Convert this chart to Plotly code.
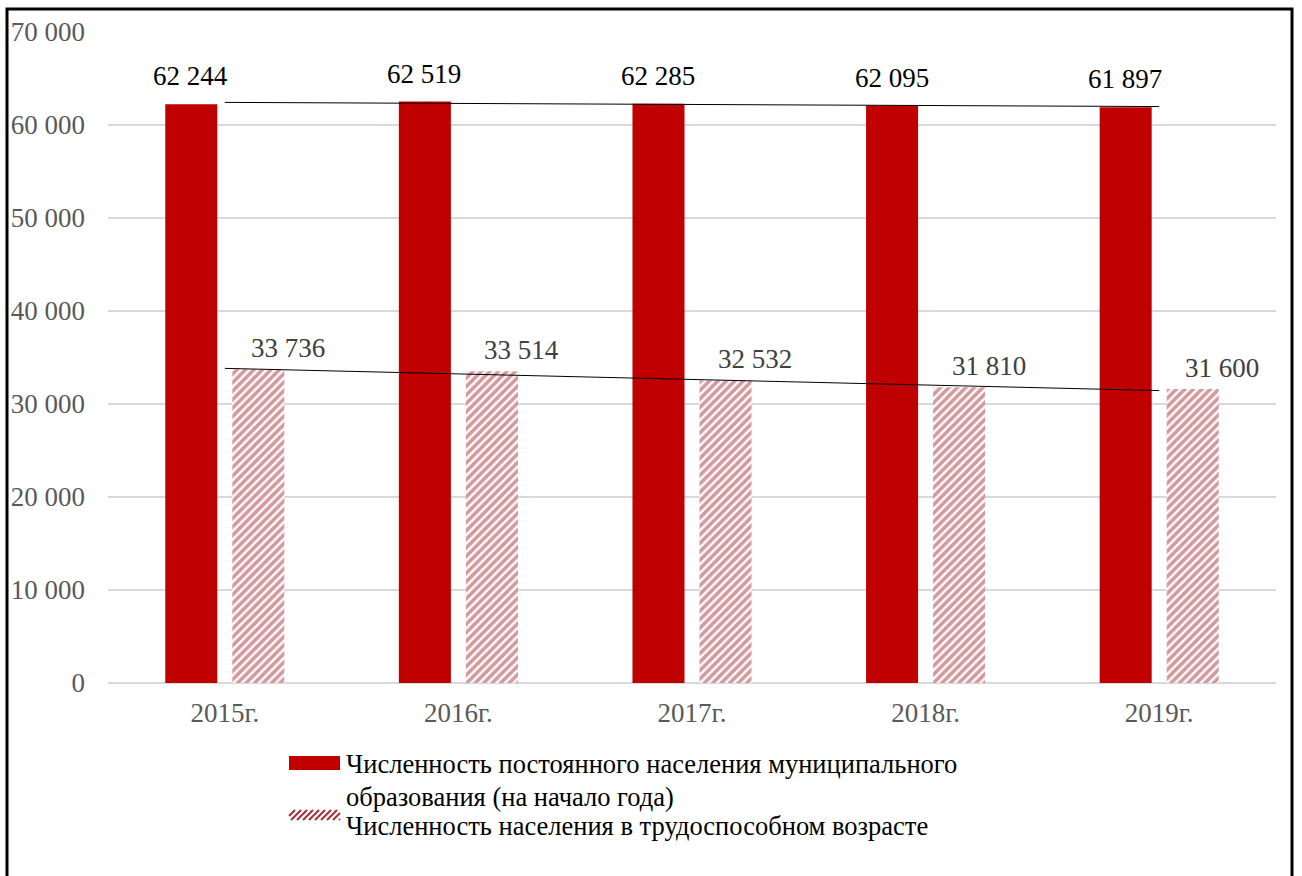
import numpy as np
import plotly.graph_objects as go

years = ["2015г.", "2016г.", "2017г.", "2018г.", "2019г."]
total_pop = [62244, 62519, 62285, 62095, 61897]
working_pop = [33736, 33514, 32532, 31810, 31600]
legend_lines_total = ["Численность постоянного населения муниципального",
                      "образования (на начало года)"]
legend_working = "Численность населения в трудоспособном возрасте"
y_ticks = [0, 10000, 20000, 30000, 40000, 50000, 60000, 70000]

FONT = "Liberation Serif, Times New Roman, serif"
RED = "#C00000"
HATCH = "#A8343C"
FS = 27

def trend(vals):
    xs = np.arange(len(vals))
    k, b = np.polyfit(xs, vals, 1)
    return list(k * xs + b)

def fmt(v):
    return f"{v:,}".replace(",", " ")

fig = go.Figure()
fig.add_trace(go.Bar(
    x=years, y=total_pop, name="total", showlegend=False,
    marker=dict(color=RED, line=dict(width=0)),
))
fig.add_trace(go.Bar(
    x=years, y=working_pop, name="working", showlegend=False,
    marker=dict(color="white", line=dict(width=0),
                pattern=dict(shape="/", fgcolor=HATCH, bgcolor="white",
                             size=6, solidity=0.6, fillmode="overlay")),
))
fig.add_trace(go.Scatter(x=years, y=trend(total_pop), mode="lines",
                         line=dict(color="black", width=1), showlegend=False,
                         hoverinfo="skip"))
fig.add_trace(go.Scatter(x=years, y=trend(working_pop), mode="lines",
                         line=dict(color="black", width=1), showlegend=False,
                         hoverinfo="skip"))

# plot-area geometry (pixels)
W, H = 1302, 876
pw, ph, L, T = 1168, 651, 108, 32
def px(x):
    return (x - L) / pw
def py(y):
    return (T + ph - y) / ph

ann = []
for yr, v in zip(years, total_pop):
    ann.append(dict(x=yr, y=v, text=fmt(v), showarrow=False,
                    xanchor="center", yanchor="bottom", xshift=-34, yshift=11,
                    font=dict(family=FONT, size=FS, color="black")))
for yr, v in zip(years, working_pop):
    ann.append(dict(x=yr, y=v, text=fmt(v), showarrow=False,
                    xanchor="center", yanchor="bottom", xshift=63, yshift=4,
                    font=dict(family=FONT, size=FS, color="#404040")))

# custom legend text
for txt, yc in [(legend_lines_total[0], 764), (legend_lines_total[1], 797),
                (legend_working, 826)]:
    ann.append(dict(xref="paper", yref="paper", x=px(344), y=py(yc), text=txt,
                    showarrow=False, xanchor="left", yanchor="middle",
                    font=dict(family=FONT, size=26.5, color="black")))

shapes = [
    # outer border (cropped at the bottom)
    dict(type="rect", xref="paper", yref="paper",
         x0=px(7), x1=px(1292), y0=py(930), y1=py(9),
         line=dict(color="black", width=3), layer="above"),
    # legend swatch: solid red
    dict(type="rect", xref="paper", yref="paper",
         x0=px(289), x1=px(340), y0=py(770), y1=py(756),
         fillcolor=RED, line=dict(width=0)),
]
# legend swatch: hatched
sx0, sx1, sy0, sy1 = 289, 340, 810, 820
hgt = sy1 - sy0
step = 6
x = sx0 - hgt
while x < sx1:
    a0, a1 = x, x + hgt
    c0 = max(a0, sx0)
    c1 = min(a1, sx1)
    if c1 > c0:
        y_at = lambda xx: sy1 - (xx - a0)
        shapes.append(dict(type="line", xref="paper", yref="paper",
                           x0=px(c0), y0=py(y_at(c0)), x1=px(c1), y1=py(y_at(c1)),
                           line=dict(color=HATCH, width=2.2)))
    x += step

fig.update_layout(
    width=W, height=H,
    margin=dict(l=L, r=W - L - pw, t=T, b=H - T - ph),
    paper_bgcolor="white", plot_bgcolor="white",
    separators=", ",
    barmode="group", bargap=0.426, bargroupgap=0.224,
    font=dict(family=FONT, size=FS, color="#595959"),
    annotations=ann,
    shapes=shapes,
    showlegend=False,
)
fig.update_xaxes(showgrid=False, showline=False, ticks="", ticklabelstandoff=11,
                 tickfont=dict(family=FONT, size=FS, color="#595959"))
fig.update_yaxes(range=[0, 70000], tickvals=y_ticks, tickformat=",d",
                 showgrid=True, gridcolor="#D9D9D9", gridwidth=2,
                 zeroline=True, zerolinecolor="#D9D9D9", zerolinewidth=2,
                 showline=False, ticks="", ticklabelstandoff=22,
                 tickfont=dict(family=FONT, size=FS, color="#595959"))

fig.write_html("out.html", config={"displayModeBar": False},
               post_script="document.body.style.margin='0';")
